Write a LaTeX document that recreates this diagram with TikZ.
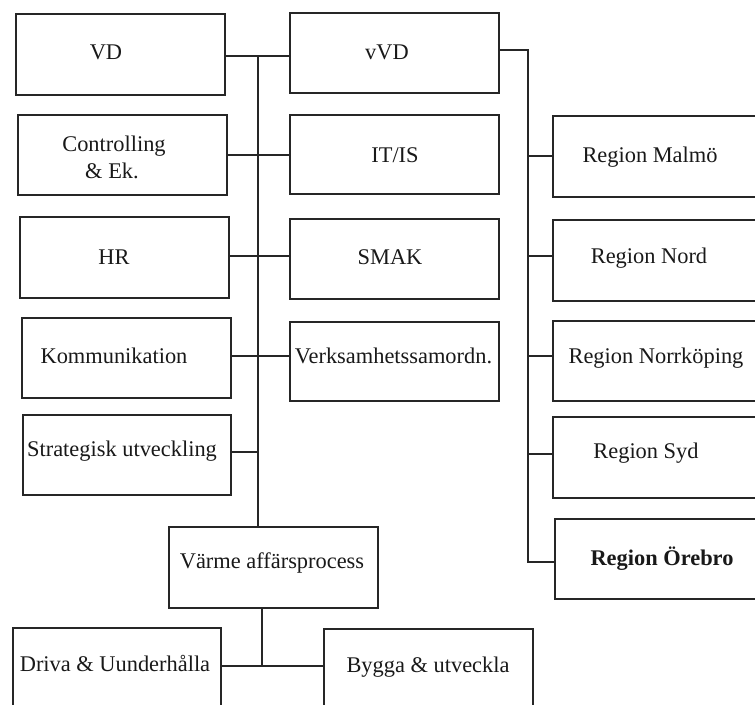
\documentclass[tikz,border=0pt]{standalone}
\usepackage{fontspec}
\setmainfont{Liberation Serif}
\begin{document}
\begin{tikzpicture}[x=0.75pt,y=-0.75pt,
  box/.style={draw=black!85,line width=1.5pt,rectangle,inner sep=0pt,anchor=north west},
  lbl/.style={inner sep=0pt,anchor=base,font=\fontsize{16.8pt}{20pt}\selectfont,text=black!90},
  conn/.style={draw=black!85,line width=1.5pt}]
\clip (0,0) rectangle (755,704);
\fill[white] (0,0) rectangle (755,704);
% left column
\node[box,minimum width=209*0.75pt,minimum height=81*0.75pt] (vd) at (15,13) {};
\node[box,minimum width=209*0.75pt,minimum height=80*0.75pt] (ctrl) at (17,114) {};
\node[box,minimum width=209*0.75pt,minimum height=81*0.75pt] (hr) at (19,216) {};
\node[box,minimum width=209*0.75pt,minimum height=80*0.75pt] (kom) at (21,317) {};
\node[box,minimum width=208*0.75pt,minimum height=80*0.75pt] (strat) at (22,414) {};
% middle column
\node[box,minimum width=209*0.75pt,minimum height=80*0.75pt] (vvd) at (289,12) {};
\node[box,minimum width=209*0.75pt,minimum height=79*0.75pt] (itis) at (289,114) {};
\node[box,minimum width=209*0.75pt,minimum height=80*0.75pt] (smak) at (289,218) {};
\node[box,minimum width=209*0.75pt,minimum height=79*0.75pt] (verk) at (289,321) {};
% regions
\node[box,minimum width=220*0.75pt,minimum height=81*0.75pt] (malmo) at (552,115) {};
\node[box,minimum width=220*0.75pt,minimum height=81*0.75pt] (nord) at (552,219) {};
\node[box,minimum width=220*0.75pt,minimum height=80*0.75pt] (norr) at (552,320) {};
\node[box,minimum width=220*0.75pt,minimum height=81*0.75pt] (syd) at (552,416) {};
\node[box,minimum width=220*0.75pt,minimum height=80*0.75pt] (orebro) at (554,518) {};
% bottom
\node[box,minimum width=209*0.75pt,minimum height=81*0.75pt] (varme) at (168,526) {};
\node[box,minimum width=208*0.75pt,minimum height=100*0.75pt] (driva) at (12,627) {};
\node[box,minimum width=209*0.75pt,minimum height=100*0.75pt] (bygga) at (323,628) {};
% labels
\node[lbl] (tvd) at (106,59) {VD};
\node[lbl] (tctrl1) at (114,151) {Controlling};
\node[lbl] (tctrl2) at (112,178) {\& Ek.};
\node[lbl] (thr) at (114,264) {HR};
\node[lbl] (tkom) at (114,363) {Kommunikation};
\node[lbl] (tstrat) at (122,456) {Strategisk utveckling};
\node[lbl] (tvvd) at (387,59) {vVD};
\node[lbl] (titis) at (395,162) {IT/IS};
\node[lbl] (tsmak) at (390,264) {SMAK};
\node[lbl] (tverk) at (393.5,363) {Verksamhetssamordn.};
\node[lbl] (tmalmo) at (650,162) {Region Malmö};
\node[lbl] (tnord) at (649,263) {Region Nord};
\node[lbl] (tnorr) at (656,363) {Region Norrköping};
\node[lbl] (tsyd) at (646,458) {Region Syd};
\node[lbl,font=\fontsize{16.8pt}{20pt}\selectfont\bfseries] (torebro) at (662,565) {Region Örebro};
\node[lbl] (tvarme) at (272,568) {Värme affärsprocess};
\node[lbl] (tdriva) at (115,671) {Driva \& Uunderhålla};
\node[lbl] (tbygga) at (428,672) {Bygga \& utveckla};
% junction coordinates
\coordinate (spinetop) at (258,56);
\coordinate (rtop) at (528,50);
\coordinate (rbot) at (528,562);
\coordinate (vbot) at (262,666);
% connectors middle spine
\draw[conn] (vd.east |- spinetop) -- (vvd.west |- spinetop);
\draw[conn] (spinetop) -- (spinetop |- varme.north);
\draw[conn] (ctrl.east |- 0,155) -- (itis.west |- 0,155);
\draw[conn] (hr.east |- 0,256) -- (smak.west |- 0,256);
\draw[conn] (kom.east |- 0,356) -- (verk.west |- 0,356);
\draw[conn] (strat.east |- 0,452) -- (spinetop |- 0,452);
% regions
\draw[conn] (vvd.east |- rtop) -- (rtop) -- (rbot) -- (orebro.west |- rbot);
\draw[conn] (rtop |- 0,156) -- (malmo.west |- 0,156);
\draw[conn] (rtop |- 0,256) -- (nord.west |- 0,256);
\draw[conn] (rtop |- 0,356) -- (norr.west |- 0,356);
\draw[conn] (rtop |- 0,454) -- (syd.west |- 0,454);
% bottom
\draw[conn] (vbot |- varme.south) -- (vbot);
\draw[conn] (driva.east |- vbot) -- (bygga.west |- vbot);
\end{tikzpicture}
\end{document}
